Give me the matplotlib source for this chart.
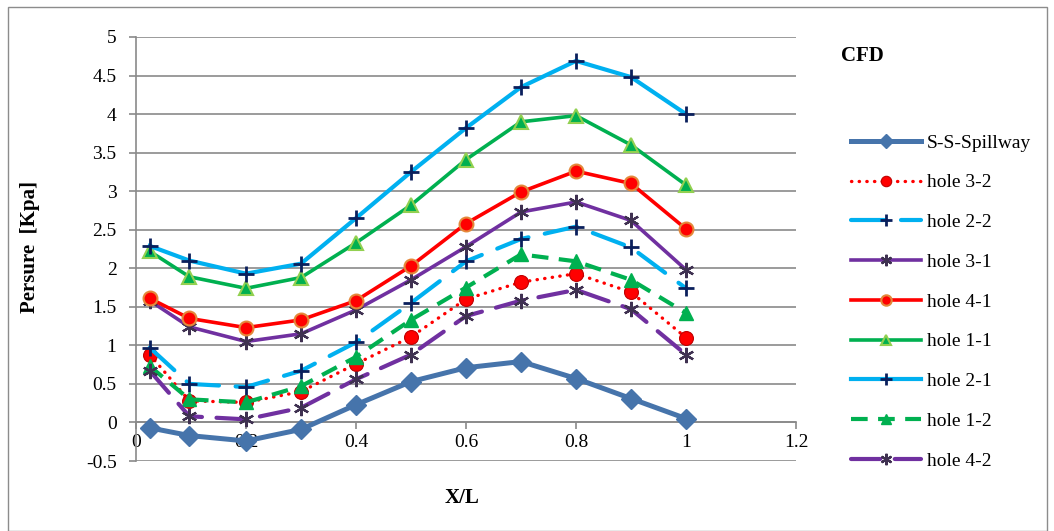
import matplotlib
matplotlib.use("Agg")
import matplotlib.pyplot as plt
from matplotlib.patches import Rectangle

# =========================================================
# DATA
# =========================================================

x_l = [0.025, 0.097, 0.2, 0.3, 0.4, 0.5, 0.6, 0.7, 0.8, 0.9, 1.0]

ss_spillway = [-0.07, -0.17, -0.24, -0.09, 0.23, 0.53, 0.71, 0.79, 0.57, 0.31, 0.05]
hole_3_2 = [0.88, 0.28, 0.26, 0.40, 0.76, 1.11, 1.60, 1.82, 1.93, 1.69, 1.10]
hole_2_2 = [0.97, 0.50, 0.46, 0.67, 1.04, 1.55, 2.09, 2.38, 2.54, 2.27, 1.74]
hole_3_1 = [1.58, 1.24, 1.05, 1.15, 1.46, 1.85, 2.28, 2.73, 2.86, 2.62, 1.98]
hole_4_1 = [1.61, 1.35, 1.23, 1.33, 1.58, 2.03, 2.58, 2.99, 3.26, 3.10, 2.51]
hole_1_1 = [2.22, 1.89, 1.74, 1.88, 2.33, 2.82, 3.41, 3.90, 3.98, 3.60, 3.08]
hole_2_1 = [2.29, 2.10, 1.93, 2.06, 2.65, 3.25, 3.82, 4.35, 4.69, 4.48, 4.00]
hole_1_2 = [0.73, 0.30, 0.26, 0.47, 0.85, 1.33, 1.75, 2.18, 2.09, 1.85, 1.42]
hole_4_2 = [0.67, 0.08, 0.04, 0.19, 0.56, 0.88, 1.38, 1.58, 1.72, 1.47, 0.88]

x_ticks = [0, 0.2, 0.4, 0.6, 0.8, 1, 1.2]
y_ticks = [-0.5, 0, 0.5, 1, 1.5, 2, 2.5, 3, 3.5, 4, 4.5, 5]

# =========================================================
# FIGURE
# =========================================================

plt.rcParams["font.family"] = ["Liberation Serif", "DejaVu Serif"]

fig = plt.figure(figsize=(10.54, 5.31), dpi=100)
ax = fig.add_axes([136 / 1054, 1 - 461 / 531, 660 / 1054, 424 / 531])

fig.patches.append(
    Rectangle((8 / 1054, 0.0), 1039 / 1054, 1 - 7 / 531,
              transform=fig.transFigure, fill=False,
              edgecolor="#8c8c8c", linewidth=1.0)
)

star = (6, 2, 0)
grid_grey = "#8a8a8a"

ax.plot(x_l, ss_spillway, color="#4674ab", lw=3.6, marker="D", ms=10,
        mfc="#4674ab", mec="#4674ab", label="S-S-Spillway", zorder=3)

ax.plot(x_l, hole_3_2, color="#ff0000", lw=2.4, ls=(0, (0.1, 2.2)),
        dash_capstyle="round", marker="o", ms=10, mfc="#ff0000",
        mec="#c00000", mew=0.8, label="hole 3-2", zorder=3)

ax.plot(x_l, hole_2_2, color="#00b0f0", lw=3.0, ls=(0, (8, 4)),
        dash_capstyle="round", marker="+", ms=12, mew=2,
        mec="#0a1f5c", label="hole 2-2", zorder=3)

ax.plot(x_l, hole_3_1, color="#7030a0", lw=2.6, marker=star, ms=11,
        mew=1.6, mec="#3f3151", label="hole 3-1", zorder=3)

ax.plot(x_l, hole_4_1, color="#ff0000", lw=2.6, marker="o", ms=10,
        mfc="#ff0000", mec="#e4883a", mew=1.5, label="hole 4-1", zorder=3)

ax.plot(x_l, hole_1_1, color="#00b050", lw=2.6, marker="^", ms=10,
        mfc="#00b050", mec="#92d050", mew=1.5, label="hole 1-1", zorder=3)

ax.plot(x_l, hole_2_1, color="#00b0f0", lw=3.0, marker="+", ms=12,
        mew=2, mec="#0a1f5c", label="hole 2-1", zorder=3)

ax.plot(x_l, hole_1_2, color="#00b050", lw=3.0, ls=(0, (4, 2.5)),
        marker="^", ms=10, mfc="#00b050", mec="#00b050",
        label="hole 1-2", zorder=3)

ax.plot(x_l, hole_4_2, color="#7030a0", lw=3.0, ls=(0, (7, 3.5)),
        dash_capstyle="round", marker=star, ms=11, mew=1.6,
        mec="#3f3151", label="hole 4-2", zorder=3)

# =========================================================
# AXES
# =========================================================

ax.set_xlim(0, 1.2)
ax.set_ylim(-0.5, 5)
ax.set_xticks(x_ticks)
ax.set_xticklabels(["0", "0.2", "0.4", "0.6", "0.8", "1", "1.2"])
ax.set_yticks(y_ticks)
ax.set_yticklabels(["-0.5", "0", "0.5", "1", "1.5", "2", "2.5",
                    "3", "3.5", "4", "4.5", "5"])

ax.spines["top"].set_visible(False)
ax.spines["right"].set_visible(False)
ax.spines["bottom"].set_position(("data", 0))
ax.spines["bottom"].set_color(grid_grey)
ax.spines["left"].set_color(grid_grey)
ax.spines["bottom"].set_linewidth(1.2)
ax.spines["left"].set_linewidth(1.2)

ax.tick_params(axis="both", direction="out", length=5, width=1.2,
               color=grid_grey, labelsize=14)
ax.tick_params(axis="y", pad=9)
ax.tick_params(axis="x", pad=3)

ax.grid(axis="y", color=grid_grey, lw=1.2)
ax.set_axisbelow(True)

fig.text(30 / 1054, 1 - 247 / 531, "Persure  [Kpa]", rotation=90,
         ha="center", va="center", fontsize=15, fontweight="bold")
fig.text(462 / 1054, 1 - 498 / 531, "X/L", ha="center", va="center",
         fontsize=15, fontweight="bold")
fig.text(862 / 1054, 1 - 56 / 531, "CFD", ha="center", va="center",
         fontsize=15, fontweight="bold")

ax.legend(loc="upper left", bbox_to_anchor=(851 / 1054, 1 - 134 / 531),
          bbox_transform=fig.transFigure, frameon=False, fontsize=14,
          numpoints=1, handlelength=3.6, handletextpad=0.3,
          labelspacing=1.14, borderpad=0, borderaxespad=0,
          markerscale=0.75)

fig.savefig("out.png", dpi=100)
